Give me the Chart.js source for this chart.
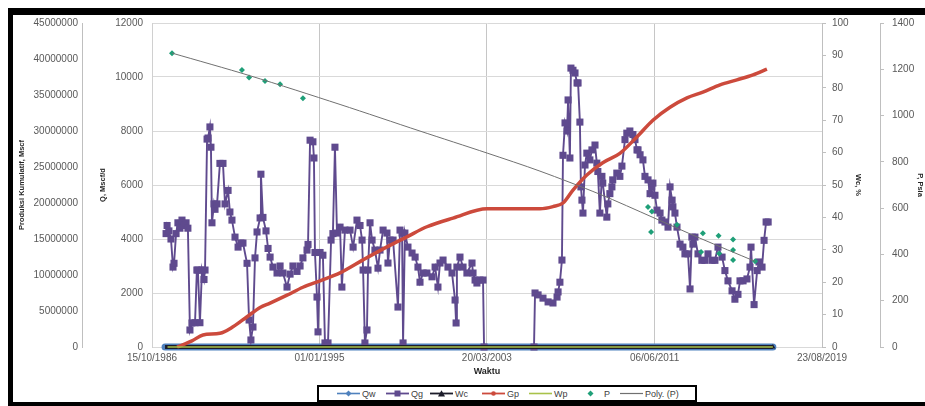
<!DOCTYPE html>
<html>
<head>
<meta charset="utf-8">
<script src="https://cdn.jsdelivr.net/npm/chart.js@4.4.1/dist/chart.umd.min.js"></script>
<style>
  html, body { margin: 0; padding: 0; background: #fff; overflow: hidden; }
  #wrap { position: relative; width: 925px; height: 406px; }
  #chart { position: absolute; left: 0; top: 0; }
  .bar { position: absolute; background: #000; }
  #legend {
    position: absolute; left: 317px; top: 385px; width: 380px; height: 17px;
    box-sizing: border-box; border: 2px solid #000; background: #fff;
    font: 9px "Liberation Sans", Arial, sans-serif; color: #404040;
  }
  #legend .it { position: absolute; top: 0; height: 13px; display: flex; align-items: center; white-space: nowrap; }
  #legend svg { width: 23px; height: 9px; margin-right: 2px; }
</style>
</head>
<body>
<div id="wrap">
  <canvas id="chart" width="925" height="406"></canvas>
  <div class="bar" style="left:8px;top:8px;width:917px;height:7px"></div>
  <div class="bar" style="left:8px;top:8px;width:5px;height:398px"></div>
  <div class="bar" style="left:8px;top:402px;width:917px;height:4px"></div>
  <div id="legend"></div>
</div>
<script>
// =======================
// Datos (fechas en años decimales)
const xTickYears = [1986.79, 1995.0, 2003.21, 2011.43, 2019.64];
const xTickLabels = ["15/10/1986", "01/01/1995", "20/03/2003", "06/06/2011", "23/08/2019"];

const qgDates = [
  1987.48, 1987.53, 1987.62, 1987.72, 1987.82, 1987.87, 1987.97, 1988.06, 1988.16, 1988.26,
  1988.36, 1988.46, 1988.55, 1988.65, 1988.75, 1988.90, 1988.99, 1989.04, 1989.14, 1989.24,
  1989.34, 1989.39, 1989.49, 1989.54, 1989.63, 1989.68, 1989.73, 1989.83, 1989.88, 1989.98,
  1990.12, 1990.27, 1990.37, 1990.52, 1990.61, 1990.71, 1990.86, 1991.01, 1991.15, 1991.25,
  1991.45, 1991.55, 1991.64, 1991.74, 1991.84, 1991.94, 1992.09, 1992.13, 1992.23, 1992.38,
  1992.48, 1992.58, 1992.72, 1992.92, 1993.07, 1993.21, 1993.41, 1993.56, 1993.70, 1993.90,
  1994.05, 1994.19, 1994.39, 1994.44, 1994.54, 1994.68, 1994.73, 1994.78, 1994.88, 1994.93,
  1995.03, 1995.17, 1995.27, 1995.42, 1995.57, 1995.66, 1995.76, 1995.86, 1996.01, 1996.10,
  1996.25, 1996.50, 1996.65, 1996.84, 1996.99, 1997.09, 1997.14, 1997.23, 1997.33, 1997.38,
  1997.48, 1997.58, 1997.72, 1997.87, 1997.97, 1998.12, 1998.31, 1998.36, 1998.46, 1998.61,
  1998.85, 1998.95, 1999.05, 1999.10, 1999.19, 1999.34, 1999.54, 1999.69, 1999.83, 1999.93,
  2000.08, 2000.27, 2000.52, 2000.67, 2000.81, 2000.91, 2001.06, 2001.30, 2001.50, 2001.65,
  2001.70, 2001.74, 2001.89, 2002.04, 2002.23, 2002.48, 2002.53, 2002.63, 2002.72, 2002.87,
  2003.02, 2003.07, 2005.52, 2005.57, 2005.72, 2005.96, 2006.21, 2006.45, 2006.65, 2006.70,
  2006.79, 2006.89, 2006.94, 2007.04, 2007.14, 2007.19, 2007.28, 2007.33, 2007.43, 2007.53,
  2007.63, 2007.68, 2007.77, 2007.82, 2007.87, 2007.92, 2008.02, 2008.11, 2008.26, 2008.36,
  2008.51, 2008.60, 2008.65, 2008.75, 2008.85, 2008.89, 2009.09, 2009.14, 2009.24, 2009.34,
  2009.38, 2009.58, 2009.73, 2009.83, 2009.98, 2010.07, 2010.22, 2010.37, 2010.47, 2010.57,
  2010.62, 2010.72, 2010.86, 2010.96, 2011.11, 2011.21, 2011.30, 2011.35, 2011.45, 2011.55,
  2011.70, 2011.79, 2011.94, 2012.09, 2012.19, 2012.29, 2012.33, 2012.43, 2012.53, 2012.68,
  2012.82, 2012.92, 2013.07, 2013.17, 2013.26, 2013.31, 2013.41, 2013.56, 2013.75, 2013.90,
  2014.05, 2014.25, 2014.39, 2014.54, 2014.74, 2014.88, 2015.03, 2015.23, 2015.37, 2015.52,
  2015.62, 2015.77, 2015.96, 2016.11, 2016.16, 2016.31, 2016.46, 2016.55, 2016.70, 2016.80,
  2016.90, 2017.00,
];
const qgValues = [
  4200, 4500, 4300, 4000, 2960, 3100, 4200, 4600, 4400, 4700,
  4500, 4600, 4400, 630, 890, 900, 2850, 2850, 900, 2850,
  2500, 2850, 7700, 7740, 8150, 7400, 4600, 5300, 5100, 5300,
  6800, 6800, 5300, 5800, 5000, 4700, 4070, 3700, 3850, 3850,
  3100, 1000, 260, 740, 3300, 4260, 4780, 6400, 4800, 4300,
  3650, 3330, 2960, 2740, 3000, 2740, 2220, 2700, 3000, 2800,
  3000, 3300, 3590, 3800, 7660, 7600, 7000, 3500, 1850, 560,
  3500, 3400, 150, 150, 3960, 4200, 7400, 4220, 4440, 2220,
  4330, 4330, 3700, 4700, 4500, 3960, 2850, 150, 630, 2850,
  4600, 3960, 3590, 2920, 3590, 4330, 4220, 3110, 3960, 3960,
  1480, 4330, 4220, 150, 4220, 3700, 3480, 3330, 2960, 2400,
  2740, 2740, 2600, 2960, 2220, 3110, 3220, 2960, 2740, 1740,
  890, 2960, 3330, 2960, 2740, 3110, 2740, 2480, 2370, 2480,
  2480, 0, 0, 2000, 1930, 1810, 1670, 1630, 1850, 2040,
  2400, 3220, 7100, 8300, 8000, 9150, 7000, 10330, 10250, 10150,
  9780, 9780, 8330, 5930, 5440, 4960, 6740, 7180, 6930, 7300,
  7480, 6810, 6500, 4960, 6320, 6070, 4810, 5300, 5680, 5930,
  6190, 6440, 6320, 6700, 7680, 7920, 8000, 7870, 7680, 7300,
  7300, 7120, 6930, 6320, 6190, 5680, 5930, 6070, 5620, 5070,
  4960, 4700, 4630, 4440, 5930, 5440, 5190, 4960, 4440, 3810,
  3700, 3450, 3450, 2150, 4070, 3810, 4070, 3450, 3210, 3210,
  3450, 3210, 3210, 3700, 3330, 2830, 2450, 2080, 1770, 1950,
  2450, 2450, 2520, 2960, 3700, 1570, 2830, 3150, 2960, 3950,
  4630, 4630,
];

const gpDates = [
  1988.02, 1988.75, 1989.29, 1990.12, 1990.76, 1991.45, 1992.09, 1992.58, 1993.41, 1994.19,
  1995.03, 1996.01, 1997.14, 1998.31, 1999.29, 2000.27, 2001.55, 2003.22, 2005.81, 2006.45,
  2006.94, 2007.43, 2008.11, 2008.89, 2009.73, 2010.57, 2011.35, 2012.19, 2013.02, 2013.80,
  2014.64, 2015.47, 2016.26, 2016.94,
];
const gpValues = [
  0, 850000, 1670000, 1900000, 2800000, 4200000, 5500000, 6100000, 7200000, 8300000,
  9200000, 10300000, 12100000, 13900000, 15300000, 16700000, 17900000, 19200000, 19200000, 19500000,
  20000000, 21800000, 23900000, 25600000, 26900000, 29200000, 31500000, 33300000, 34600000, 35400000,
  36400000, 37100000, 37800000, 38600000,
];

const pDates = [
  1987.77, 1991.20, 1991.55, 1992.33, 1993.07, 1994.19, 2011.11, 2011.30, 2011.26, 2012.53,
  2013.71, 2013.80, 2014.57, 2014.60, 2015.28, 2015.28, 2015.28, 2016.36,
];
const pValues = [
  1269, 1197, 1165, 1149, 1135, 1075, 605, 585, 497, 528,
  410, 491, 481, 404, 464, 419, 376, 371,
];

const polyDates = [1987.77, 1991.60, 1996.01, 1999.93, 2003.22, 2005.81, 2008.75, 2011.35, 2013.66, 2016.36];
const polyValues = [1270, 1172, 1048, 933, 838, 760, 660, 560, 470, 370];

const qwDates = [1987.43, 2017.23];
const qwValues = [0, 0];
const wcDates = [1987.43, 2017.23];
const wcValues = [0, 0];
const wpDates = [1987.55, 2017.23];
const wpValues = [0, 0];

const seriesNames = ["Qw", "Qg", "Wc", "Gp", "Wp", "P", "Poly. (P)"];

// =======================
// Utilidades
const pts = (xs, ys) => xs.map((x, i) => ({ x, y: ys[i] }));
const FONT = "'Liberation Sans', Arial, sans-serif";
const tickFont = { family: FONT, size: 10 };
const titleFont = { family: FONT, size: 7.5, weight: "bold" };
const tickColor = "#595959";
const titleColor = "#262626";
const asText = (v) => String(v);

// =======================
// Gráfico
new Chart(document.getElementById("chart"), {
  type: "scatter",
  data: {
    datasets: [
      {
        label: seriesNames[0],
        data: pts(qwDates, qwValues),
        yAxisID: "yQ",
        showLine: true,
        borderColor: "#4f81bd",
        borderWidth: 7,
        borderCapStyle: "round",
        pointRadius: 0,
        clip: false,
        order: 7,
      },
      {
        label: seriesNames[1],
        data: pts(qgDates, qgValues),
        yAxisID: "yQ",
        showLine: true,
        borderColor: "#5f4a8e",
        borderWidth: 1.9,
        pointStyle: "rect",
        pointRadius: 5,
        pointBackgroundColor: "#5f4a8e",
        pointBorderColor: "#5f4a8e",
        pointBorderWidth: 0,
        clip: false,
        order: 6,
      },
      {
        label: seriesNames[2],
        data: pts(wcDates, wcValues),
        yAxisID: "yWc",
        showLine: true,
        borderColor: "#1c1c2a",
        borderWidth: 4,
        pointStyle: "triangle",
        pointRadius: [0, 3],
        pointBackgroundColor: "#1c1c2a",
        pointBorderWidth: 0,
        clip: false,
        order: 5,
      },
      {
        label: seriesNames[3],
        data: pts(gpDates, gpValues),
        yAxisID: "yGp",
        showLine: true,
        borderColor: "#cc4a3c",
        borderWidth: 3.5,
        cubicInterpolationMode: "monotone",
        pointRadius: 0,
        clip: false,
        order: 4,
      },
      {
        label: seriesNames[4],
        data: pts(wpDates, wpValues),
        yAxisID: "yGp",
        showLine: true,
        borderColor: "#a9c24a",
        borderWidth: 1.5,
        pointRadius: 0,
        clip: false,
        order: 3,
      },
      {
        label: seriesNames[5],
        data: pts(pDates, pValues),
        yAxisID: "yP",
        showLine: false,
        pointStyle: "rectRot",
        pointRadius: 3,
        pointBackgroundColor: "#1f9f78",
        pointBorderColor: "#1f9f78",
        pointBorderWidth: 0,
        clip: false,
        order: 2,
      },
      {
        label: seriesNames[6],
        data: pts(polyDates, polyValues),
        yAxisID: "yP",
        showLine: true,
        borderColor: "#707070",
        borderWidth: 1,
        tension: 0.3,
        pointRadius: 0,
        order: 1,
      },
    ],
  },
  options: {
    responsive: false,
    animation: false,
    devicePixelRatio: 1,
    events: [],
    layout: { padding: { left: 13, top: 23, right: 0, bottom: 29 } },
    plugins: { legend: { display: false }, tooltip: { enabled: false } },
    scales: {
      x: {
        type: "linear",
        position: "bottom",
        min: xTickYears[0],
        max: xTickYears[xTickYears.length - 1],
        afterBuildTicks: (s) => {
          s.ticks = xTickYears.map((v) => ({ value: v }));
        },
        ticks: {
          callback: (v, i) => xTickLabels[i],
          color: tickColor,
          font: tickFont,
          padding: 5,
          maxRotation: 0,
          autoSkip: false,
        },
        grid: { color: "#c6c6c6", drawTicks: false },
        border: { display: false },
        title: {
          display: true,
          text: "Waktu",
          color: titleColor,
          font: { family: FONT, size: 9, weight: "bold" },
          padding: { top: 0, bottom: 0.5 },
        },
        afterFit: (s) => {
          s.height = 30;
        },
      },
      yQ: {
        position: "left",
        weight: 0,
        min: 0,
        max: 12000,
        ticks: { stepSize: 2000, callback: asText, color: tickColor, font: tickFont, padding: 9 },
        grid: { color: "#d9d9d9", drawTicks: false },
        border: { color: "#d0d0d0" },
        title: {
          display: true,
          text: "Q, Mscf/d",
          color: titleColor,
          font: titleFont,
          padding: { top: 16.5, bottom: 0 },
        },
        afterFit: (s) => {
          s.width = 70;
        },
      },
      yGp: {
        position: "left",
        weight: 1,
        min: 0,
        max: 45000000,
        ticks: { stepSize: 5000000, callback: asText, color: tickColor, font: tickFont, padding: 4 },
        grid: { drawOnChartArea: false, drawTicks: false },
        border: { color: "#bfbfbf" },
        title: {
          display: true,
          text: "Produksi Kumulatif, Mscf",
          color: titleColor,
          font: titleFont,
          padding: { top: 4.5, bottom: 0 },
        },
        afterFit: (s) => {
          s.width = 69;
        },
      },
      yWc: {
        position: "right",
        weight: 0,
        min: 0,
        max: 100,
        ticks: { stepSize: 10, callback: asText, color: tickColor, font: tickFont, padding: 6 },
        grid: { drawOnChartArea: false, tickLength: 4, color: "#bfbfbf" },
        border: { color: "#bfbfbf" },
        title: {
          display: true,
          text: "Wc, %",
          color: titleColor,
          font: titleFont,
          padding: { top: 17.5, bottom: 0 },
        },
        afterFit: (s) => {
          s.width = 58;
        },
      },
      yP: {
        position: "right",
        weight: 1,
        min: 0,
        max: 1400,
        ticks: { stepSize: 200, callback: asText, color: tickColor, font: tickFont, padding: 8 },
        grid: { drawOnChartArea: false, tickLength: 4, color: "#bfbfbf" },
        border: { color: "#bfbfbf" },
        title: {
          display: true,
          text: "P, Psia",
          color: titleColor,
          font: titleFont,
          padding: { top: 0.5, bottom: 0 },
        },
        afterFit: (s) => {
          s.width = 45;
        },
      },
    },
  },
});

// =======================
// Leyenda (HTML)
const icons = [
  '<line x1="0" y1="4.5" x2="23" y2="4.5" stroke="#4f81bd" stroke-width="1.6"/><path d="M11.5 1.5 L14.5 4.5 L11.5 7.5 L8.5 4.5 Z" fill="#4f81bd"/>',
  '<line x1="0" y1="4.5" x2="23" y2="4.5" stroke="#5f4a8e" stroke-width="1.8"/><rect x="8.5" y="1.5" width="6" height="6" fill="#5f4a8e"/>',
  '<line x1="0" y1="4.5" x2="23" y2="4.5" stroke="#1c1c2a" stroke-width="1.8"/><path d="M11.5 1.2 L15 7.5 L8 7.5 Z" fill="#1c1c2a"/>',
  '<line x1="0" y1="4.5" x2="23" y2="4.5" stroke="#cc4a3c" stroke-width="1.8"/><circle cx="11.5" cy="4.5" r="2.3" fill="#cc4a3c"/>',
  '<line x1="0" y1="4.5" x2="23" y2="4.5" stroke="#a9c24a" stroke-width="1.6"/>',
  '<path d="M11.5 1.5 L14.5 4.5 L11.5 7.5 L8.5 4.5 Z" fill="#1f9f78"/>',
  '<line x1="0" y1="4.5" x2="23" y2="4.5" stroke="#707070" stroke-width="1.2"/>',
];
const legendLeft = [18, 67, 111, 163, 210, 260, 301];
const legend = document.getElementById("legend");
seriesNames.forEach((name, i) => {
  const it = document.createElement("div");
  it.className = "it";
  it.style.left = legendLeft[i] + "px";
  it.innerHTML = `<svg viewBox="0 0 23 9">${icons[i]}</svg><span>${name}</span>`;
  legend.appendChild(it);
});
</script>
</body>
</html>
